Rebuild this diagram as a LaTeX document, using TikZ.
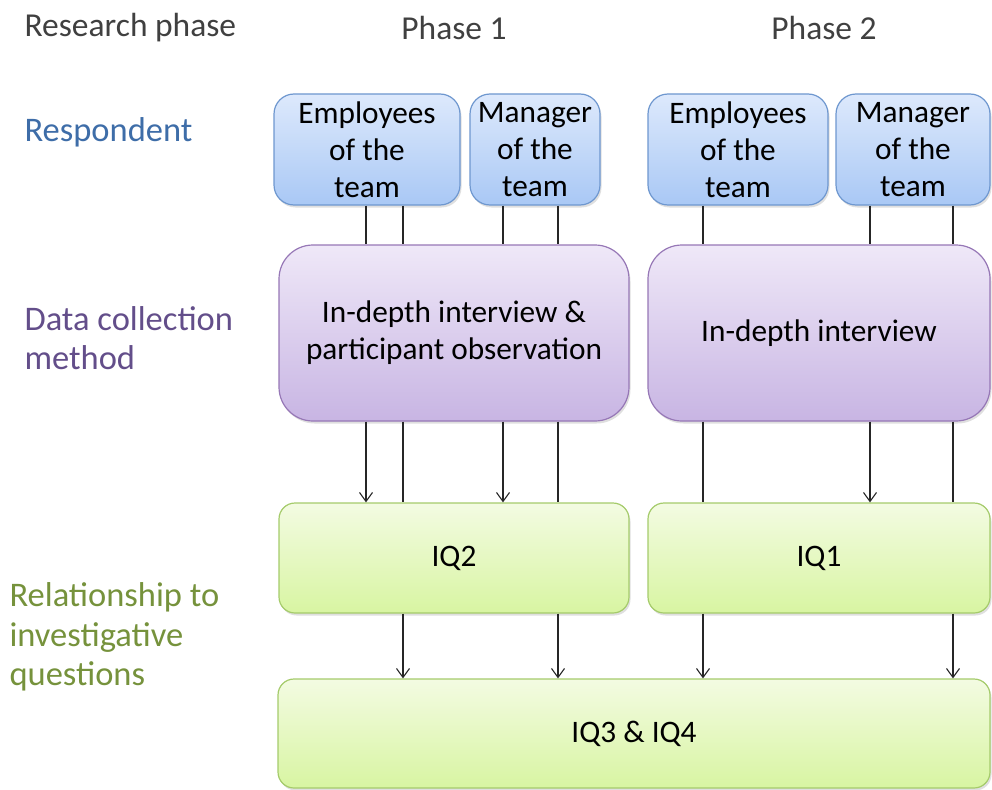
\documentclass[tikz,border=0pt]{standalone}
\usepackage{fontspec}
\setmainfont{Carlito}
\usetikzlibrary{arrows.meta,shadows}

\definecolor{hdrgray}{HTML}{404040}
\definecolor{lblblue}{HTML}{3E6DA8}
\definecolor{lblpurple}{HTML}{634E8A}
\definecolor{lblgreen}{HTML}{76923C}
\definecolor{bluetop}{HTML}{DDE9FC}
\definecolor{bluebot}{HTML}{A9C8F5}
\definecolor{blueline}{HTML}{6E97CF}
\definecolor{purptop}{HTML}{EFE8F8}
\definecolor{purpbot}{HTML}{C8B5E3}
\definecolor{purpline}{HTML}{9677B6}
\definecolor{greentop}{HTML}{F3FBE2}
\definecolor{greenbot}{HTML}{D8F5A2}
\definecolor{greenline}{HTML}{A5CB6B}

\tikzset{
  header/.style={text=hdrgray, font=\fontsize{33.5}{40}\selectfont},
  rowlabel/.style={anchor=west, align=left, font=\fontsize{34.5}{39.5}\selectfont},
  boxbase/.style={draw, line width=1.2pt, align=center, text=black,
    inner sep=0pt, font=\fontsize{31.3}{37}\selectfont,
    drop shadow={shadow xshift=1.5pt, shadow yshift=-2.5pt, opacity=0.25}},
  respbox/.style={boxbase, rounded corners=20pt, draw=blueline,
    top color=bluetop, bottom color=bluebot,
    minimum height=111pt},
  methbox/.style={boxbase, rounded corners=34pt, draw=purpline,
    top color=purptop, bottom color=purpbot,
    minimum height=176pt, minimum width=350pt},
  iqbox/.style={boxbase, rounded corners=16pt, draw=greenline,
    top color=greentop, bottom color=greenbot,
    minimum height=110pt},
  link/.style={draw=black!85, line width=1.1pt},
  arrowlink/.style={link, -{Straight Barb[length=9pt,width=13pt,line width=1.1pt]}}
}

\begin{document}
\begin{tikzpicture}[x=1pt, y=-1pt]
  \useasboundingbox (0,0) rectangle (992,789);

  % column headers
  \node[header, anchor=west] (hresearch) at (21,28) {Research phase};
  \node[header] (hphase1) at (454,28) {Phase 1};
  \node[header] (hphase2) at (824,28) {Phase 2};

  % row labels
  \node[rowlabel, text=lblblue] (lresp) at (21,132) {Respondent};
  \node[rowlabel, text=lblpurple] (lmeth) at (21,338) {Data collection\\method};
  \node[rowlabel, text=lblgreen] (lrel) at (6,637) {Relationship to\\investigative\\questions};

  % respondents
  \node[respbox, minimum width=186pt] (emp1) at (367,149.5) {Employees\\of the\\team};
  \node[respbox, minimum width=130pt] (mgr1) at (535,149.5) {Manager\\of the\\team};
  \node[respbox, minimum width=180pt] (emp2) at (738,149.5) {Employees\\of the\\team};
  \node[respbox, minimum width=154pt] (mgr2) at (913,149.5) {Manager\\of the\\team};

  % data collection methods
  \node[methbox] (meth1) at (454,333) {In-depth interview \&\\participant observation};
  \node[methbox, minimum width=342pt] (meth2) at (819,333) {In-depth interview};

  % investigative questions
  \node[iqbox, minimum width=350pt] (iq2) at (454,558) {IQ2};
  \node[iqbox, minimum width=342pt] (iq1) at (819,558) {IQ1};
  \node[iqbox, minimum width=712pt, minimum height=109pt] (iq34) at (634,733.5) {IQ3 \& IQ4};

  % connector columns
  \coordinate (ca) at (366,0);
  \coordinate (cb) at (403,0);
  \coordinate (cc) at (503,0);
  \coordinate (cd) at (558,0);
  \coordinate (ce) at (703,0);
  \coordinate (cf) at (870,0);
  \coordinate (cg) at (953,0);

  % respondents to methods
  \draw[link] (emp1.south -| ca) -- (meth1.north -| ca);
  \draw[link] (emp1.south -| cb) -- (meth1.north -| cb);
  \draw[link] (mgr1.south -| cc) -- (meth1.north -| cc);
  \draw[link] (mgr1.south -| cd) -- (meth1.north -| cd);
  \draw[link] (emp2.south -| ce) -- (meth2.north -| ce);
  \draw[link] (mgr2.south -| cf) -- (meth2.north -| cf);
  \draw[link] (mgr2.south -| cg) -- (meth2.north -| cg);

  % methods to investigative questions
  \draw[arrowlink] (meth1.south -| ca) -- (iq2.north -| ca);
  \draw[link] (meth1.south -| cb) -- (iq2.north -| cb);
  \draw[arrowlink] (meth1.south -| cc) -- (iq2.north -| cc);
  \draw[link] (meth1.south -| cd) -- (iq2.north -| cd);
  \draw[link] (meth2.south -| ce) -- (iq1.north -| ce);
  \draw[arrowlink] (meth2.south -| cf) -- (iq1.north -| cf);
  \draw[link] (meth2.south -| cg) -- (iq1.north -| cg);

  % through to IQ3 & IQ4
  \draw[arrowlink] (iq2.south -| cb) -- (iq34.north -| cb);
  \draw[arrowlink] (iq2.south -| cd) -- (iq34.north -| cd);
  \draw[arrowlink] (iq1.south -| ce) -- (iq34.north -| ce);
  \draw[arrowlink] (iq1.south -| cg) -- (iq34.north -| cg);
\end{tikzpicture}
\end{document}
